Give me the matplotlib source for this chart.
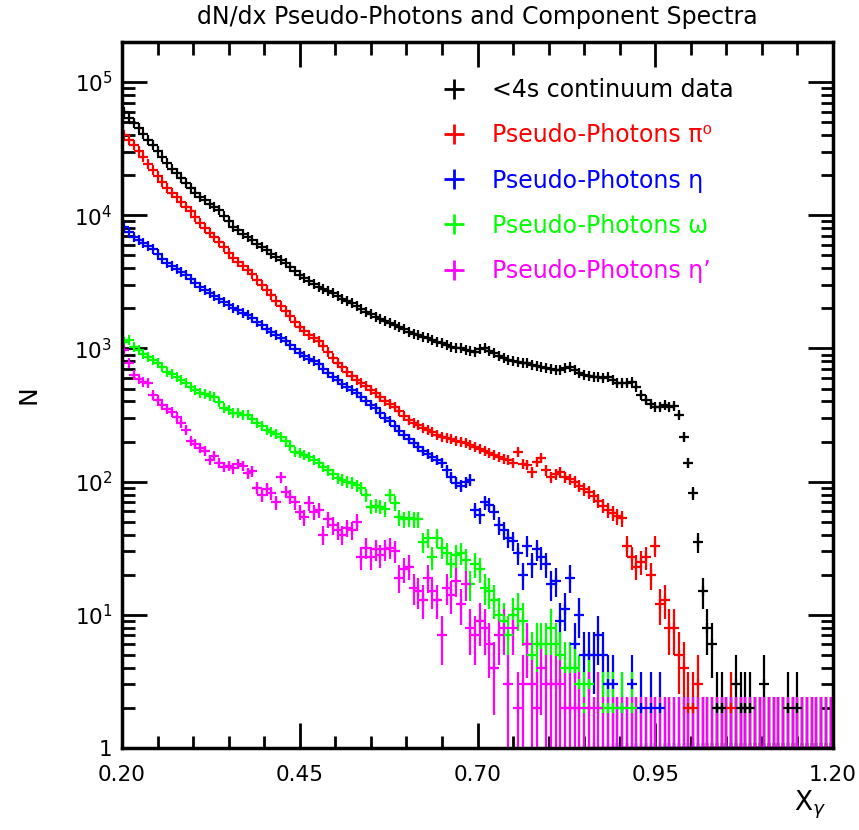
import numpy as np
import matplotlib
matplotlib.use("Agg")
import matplotlib.pyplot as plt
from matplotlib.ticker import FixedLocator, LogLocator, FuncFormatter, NullFormatter
from matplotlib.lines import Line2D

# histogram binning: 150 bins over the plotted x range
x_lo, x_hi, n_bins = 0.2, 1.2, 150

# bin contents (empty bins show as 1)
continuum = [59600, 54100, 49200, 44900, 40700, 37000, 33700, 30300, 27300, 24500,
             22400, 20600, 18900, 17400, 16000, 14800, 13800, 13000, 12200, 11500,
             10900, 9950, 9040, 8200, 7740, 7290, 6860, 6510, 6130, 5770,
             5480, 5160, 4850, 4610, 4350, 4080, 3810, 3560, 3380, 3210,
             3040, 2900, 2790, 2700, 2590, 2470, 2370, 2270, 2180, 2080,
             1980, 1890, 1810, 1730, 1660, 1610, 1550, 1500, 1450, 1390,
             1335, 1290, 1260, 1220, 1190, 1160, 1120, 1090, 1060, 1030,
             1015, 1000, 980, 965, 945, 990, 1007, 955, 918, 877,
             847, 818, 804, 790, 777, 773, 757, 744, 729, 713,
             700, 689, 689, 713, 725, 689, 653, 631, 621, 610,
             610, 600, 610, 579, 550, 550, 550, 560, 516, 447,
             410, 383, 365, 363, 376, 363, 370, 316, 216, 138,
             82, 35, 15, 8, 6, 2, 2, 1, 1, 3,
             2, 2, 2, 1, 1, 3, 1, 1, 1, 1,
             2, 1, 2, 1, 1, 1, 1, 1, 1, 1]

pi0 = [40000, 36700, 33700, 30300, 27400, 24400, 21800, 19700, 17700, 16000,
       14700, 13600, 12600, 11500, 10800, 9690, 8730, 8010, 7410, 6860,
       6290, 5770, 5250, 4770, 4450, 4150, 3880, 3620, 3290, 2990,
       2745, 2500, 2270, 2080, 1910, 1750, 1590, 1450, 1350, 1270,
       1200, 1140, 1040, 940, 850, 783, 725, 671, 621, 584,
       550, 522, 491, 462, 431, 403, 383, 363, 339, 311,
       290, 275, 264, 252, 244, 236, 224, 216, 213, 209,
       202, 198, 195, 188, 182, 176, 170, 164, 158, 153,
       148, 145, 138, 167, 136, 133, 118, 140, 150, 122,
       108, 114, 118, 108, 104, 100, 93, 88, 83, 78,
       72, 66, 61, 58, 55, 53, 33, 27, 23, 25,
       27, 20, 33, 12, 13, 8, 8, 5, 4, 2,
       2, 3, 1, 1, 1, 1, 1, 1, 2, 1,
       1, 1, 1, 1, 1, 1, 1, 1, 1, 1,
       1, 1, 1, 1, 1, 1, 1, 1, 1, 1]

eta = [8200, 7550, 6900, 6510, 6180, 5870, 5570, 5110, 4730, 4380,
       4150, 3950, 3750, 3560, 3320, 3100, 2890, 2745, 2600, 2470,
       2350, 2230, 2120, 2010, 1930, 1840, 1770, 1690, 1580, 1490,
       1400, 1330, 1260, 1200, 1140, 1060, 990, 923, 885, 840,
       804, 763, 706, 653, 610, 579, 545, 513, 487, 459,
       431, 403, 376, 357, 327, 300, 285, 261, 240, 224,
       209, 195, 182, 170, 161, 153, 145, 138, 122, 108,
       98, 93, 99, 103, 61, 56, 70, 67, 59, 47,
       43, 38, 36, 29, 20, 33, 24, 31, 27, 24,
       17, 18, 9, 11, 19, 6, 10, 5, 5, 5,
       7, 5, 3, 3, 1, 2, 1, 3, 1, 2,
       1, 2, 1, 2, 1, 1, 1, 1, 1, 1,
       1, 1, 1, 1, 1, 1, 1, 1, 1, 1,
       1, 1, 1, 1, 1, 1, 1, 1, 1, 1,
       1, 1, 1, 1, 1, 1, 1, 1, 1, 1]

omega = [1125, 1157, 1025, 973, 908, 861, 818, 777, 725, 668,
         643, 610, 579, 550, 513, 487, 462, 455, 443, 434,
         396, 357, 345, 327, 327, 316, 316, 295, 275, 261,
         244, 236, 228, 217, 202, 185, 168, 164, 158, 154,
         145, 138, 129, 122, 114, 106, 103, 100, 98, 94,
         90, 79, 65, 66, 65, 62, 79, 69, 54, 52,
         53, 52, 52, 35, 38, 27, 38, 32, 29, 24,
         28, 29, 26, 17, 24, 22, 16, 15, 13, 10,
         9, 7, 10, 11, 9, 6, 5, 6, 6, 6,
         8, 6, 5, 4, 4, 4, 3, 2, 3, 1,
         2, 2, 2, 2, 1, 2, 1, 2, 1, 1,
         1, 1, 1, 1, 1, 1, 1, 1, 1, 1,
         1, 1, 1, 1, 1, 1, 1, 1, 1, 1,
         1, 1, 1, 1, 1, 1, 1, 1, 1, 1,
         1, 1, 1, 1, 1, 1, 1, 1, 1, 1]

etaprime = [973, 777, 631, 589, 562, 550, 447, 410, 376, 351,
            333, 305, 275, 244, 202, 192, 179, 170, 145, 156,
            138, 129, 131, 126, 136, 131, 116, 120, 90, 79,
            88, 82, 70, 108, 84, 77, 70, 59, 54, 69,
            59, 61, 40, 52, 47, 43, 40, 45, 43, 50,
            27, 32, 27, 31, 28, 31, 32, 30, 19, 22,
            23, 16, 15, 13, 19, 15, 13, 7, 16, 14,
            18, 12, 17, 8, 7, 9, 8, 6, 4, 7,
            8, 3, 8, 2, 3, 6, 3, 2, 4, 3,
            3, 3, 3, 2, 2, 2, 2, 1, 2, 1,
            2, 1, 1, 1, 1, 1, 1, 1, 1, 1,
            1, 1, 1, 1, 1, 1, 1, 1, 1, 1,
            1, 1, 1, 1, 1, 1, 1, 1, 1, 1,
            1, 1, 1, 1, 1, 1, 1, 1, 1, 1,
            1, 1, 1, 1, 1, 1, 1, 1, 1, 1]

labels = ["<4s continuum data", "Pseudo-Photons \u03c0\u2070", "Pseudo-Photons \u03b7",
          "Pseudo-Photons \u03c9", "Pseudo-Photons \u03b7\u2019"]
colors = ["black", "#ff0000", "#0000ff", "#00ff00", "#ff00ff"]
series = [continuum, pi0, eta, omega, etaprime]

edges = np.linspace(x_lo, x_hi, n_bins + 1)
centers = 0.5 * (edges[:-1] + edges[1:])

fig = plt.figure(figsize=(8.59, 8.30), dpi=100)
ax = fig.add_axes([122 / 859, 82 / 830, 711 / 859, 706 / 830])

for counts, color in zip(series, colors):
    n = np.asarray(counts, dtype=float)
    err = np.sqrt(n + 1.0)
    lo = np.minimum(err, n - 1e-3)
    ax.errorbar(centers, n, yerr=[lo, err], fmt="+", color=color,
                ms=7.5, mew=1.6, elinewidth=1.6, capsize=0)

ax.set_yscale("log")
ax.set_xlim(x_lo, x_hi)
ax.set_ylim(1, 2e5)

ax.xaxis.set_major_locator(FixedLocator([0.2, 0.45, 0.7, 0.95, 1.2]))
ax.xaxis.set_minor_locator(FixedLocator(np.arange(0.2, 1.2001, 0.05)))
ax.xaxis.set_major_formatter(FuncFormatter(lambda v, _: "%.2f" % v))
ax.yaxis.set_major_locator(LogLocator(base=10, numticks=10))
ax.yaxis.set_minor_locator(LogLocator(base=10, subs=np.arange(2, 10), numticks=20))
ax.yaxis.set_minor_formatter(NullFormatter())
ax.yaxis.set_major_formatter(FuncFormatter(
    lambda v, _: "1" if abs(v - 1) < 1e-9 else r"$\mathregular{10^{%d}}$" % round(np.log10(v))))

ax.tick_params(which="both", direction="in", top=True, right=True, width=2)
ax.tick_params(which="major", length=18, labelsize=15.5)
ax.tick_params(which="minor", length=9)
ax.tick_params(axis="x", which="major", pad=12)
ax.tick_params(axis="y", which="major", pad=7)
for sp in ax.spines.values():
    sp.set_linewidth(2.5)

ax.set_title("dN/dx Pseudo-Photons and Component Spectra", fontsize=17, pad=13)
ax.set_xlabel(r"X$_\gamma$", fontsize=19, ha="right")
ax.xaxis.set_label_coords(0.99, -0.057)
ax.set_ylabel("N", fontsize=18)
ax.yaxis.set_label_coords(-0.115, 0.5)

handles = [Line2D([], [], ls="none", marker="+", ms=14, mew=2, color=c) for c in colors]
ax.legend(handles, labels, loc="upper left", bbox_to_anchor=(0.451, 0.949),
          frameon=False, fontsize=17, handlelength=1.0, handletextpad=1.08,
          labelspacing=0.9, borderaxespad=0, borderpad=0, labelcolor="linecolor")

fig.savefig("out.png", dpi=100)
